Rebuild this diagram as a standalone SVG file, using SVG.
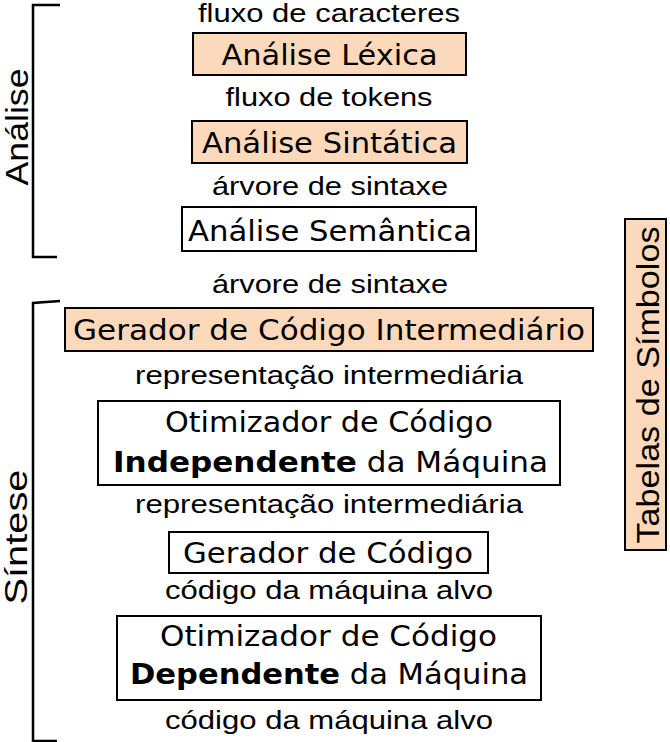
<svg xmlns="http://www.w3.org/2000/svg" width="670" height="742" viewBox="0 0 670 742">
<style>
.lbl{font-family:"Liberation Sans",Arial,sans-serif;font-size:25px;fill:#000;text-anchor:middle}
.box{stroke:#000;stroke-width:2}
.peach{fill:#fdd9bb}
.white{fill:#fff}
.bt{font-family:"DejaVu Sans",Verdana,sans-serif;font-size:29px;fill:#000;text-anchor:middle}
.b{font-weight:bold}
.side{font-family:"Liberation Sans",Arial,sans-serif;font-size:31px;fill:#000;text-anchor:middle}
.br{fill:none;stroke:#000;stroke-width:2.5}
</style>
<rect width="670" height="742" fill="#fff"/>
<g id="connectors">
<path class="br" d="M60,5 H33 V257 H57"/>
<path class="br" d="M60,301 L33,303 V741 H57"/>
</g>
<g id="analise-label"><text class="side" transform="translate(28,127) rotate(-90)" textLength="117" lengthAdjust="spacingAndGlyphs">Análise</text></g>
<g id="sintese-label"><text class="side" transform="translate(27,537) rotate(-90)" textLength="135" lengthAdjust="spacingAndGlyphs">Síntese</text></g>
<g id="labels">
<text class="lbl" x="329" y="22" textLength="262" lengthAdjust="spacingAndGlyphs">fluxo de caracteres</text>
<text class="lbl" x="329" y="106" textLength="207" lengthAdjust="spacingAndGlyphs">fluxo de tokens</text>
<text class="lbl" x="330" y="195" textLength="236" lengthAdjust="spacingAndGlyphs">árvore de sintaxe</text>
<text class="lbl" x="330" y="293" textLength="236" lengthAdjust="spacingAndGlyphs">árvore de sintaxe</text>
<text class="lbl" x="329" y="384" textLength="388" lengthAdjust="spacingAndGlyphs">representação intermediária</text>
<text class="lbl" x="329" y="513" textLength="388" lengthAdjust="spacingAndGlyphs">representação intermediária</text>
<text class="lbl" x="329" y="599" textLength="328" lengthAdjust="spacingAndGlyphs">código da máquina alvo</text>
<text class="lbl" x="329" y="729" textLength="328" lengthAdjust="spacingAndGlyphs">código da máquina alvo</text>
</g>
<g id="analise-lexica">
<rect class="box peach" x="193" y="33" width="273" height="42"/>
<text class="bt" x="329.5" y="65" textLength="216" lengthAdjust="spacingAndGlyphs">Análise Léxica</text>
</g>
<g id="analise-sintatica">
<rect class="box peach" x="192" y="121" width="275" height="42"/>
<text class="bt" x="329.5" y="153" textLength="255" lengthAdjust="spacingAndGlyphs">Análise Sintática</text>
</g>
<g id="analise-semantica">
<rect class="box white" x="182" y="207" width="294" height="44"/>
<text class="bt" x="330" y="241" textLength="284" lengthAdjust="spacingAndGlyphs">Análise Semântica</text>
</g>
<g id="gerador-intermediario">
<rect class="box peach" x="65" y="308" width="528" height="43"/>
<text class="bt" x="329" y="340" textLength="512" lengthAdjust="spacingAndGlyphs">Gerador de Código Intermediário</text>
</g>
<g id="otimizador-independente">
<rect class="box white" x="98" y="401" width="462" height="84"/>
<text class="bt" x="329" y="432" textLength="328" lengthAdjust="spacingAndGlyphs">Otimizador de Código</text>
<text class="bt" x="330.5" y="472" textLength="435" lengthAdjust="spacingAndGlyphs"><tspan class="b">Independente</tspan> da Máquina</text>
</g>
<g id="gerador-codigo">
<rect class="box white" x="169" y="532" width="319" height="41"/>
<text class="bt" x="328" y="563" textLength="290" lengthAdjust="spacingAndGlyphs">Gerador de Código</text>
</g>
<g id="otimizador-dependente">
<rect class="box white" x="117" y="616" width="424" height="84"/>
<text class="bt" x="328.5" y="646" textLength="337" lengthAdjust="spacingAndGlyphs">Otimizador de Código</text>
<text class="bt" x="329" y="684" textLength="398" lengthAdjust="spacingAndGlyphs"><tspan class="b">Dependente</tspan> da Máquina</text>
</g>
<g id="tabelas-simbolos">
<rect class="box peach" x="625" y="219" width="41" height="331"/>
<text class="side" transform="translate(659,385) rotate(-90)" textLength="317" lengthAdjust="spacingAndGlyphs">Tabelas de Símbolos</text>
</g>
</svg>
